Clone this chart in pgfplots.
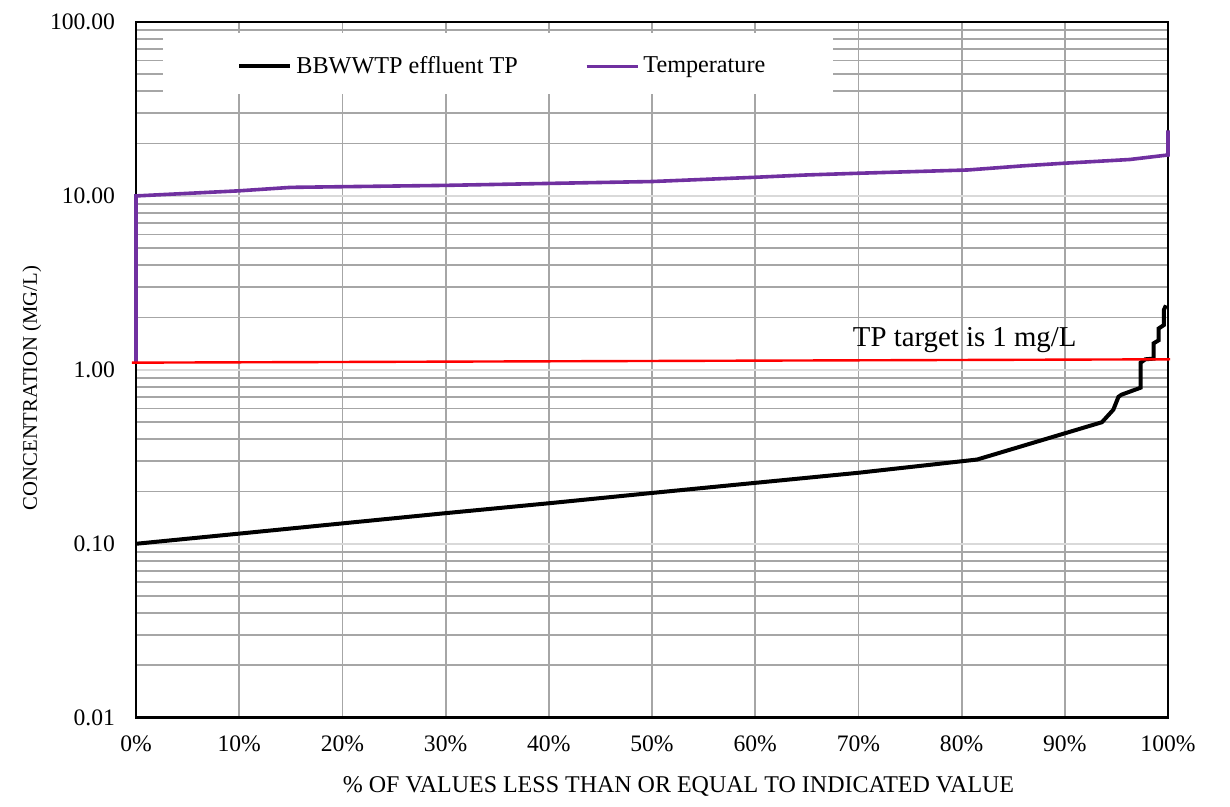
\documentclass[border=0pt]{standalone}
\usepackage{fontspec}
\setmainfont{Liberation Serif}
\usepackage{pgfplots}
\pgfplotsset{compat=1.18}
\definecolor{tempc}{HTML}{7030A0}
\definecolor{gridmaj}{HTML}{D9D9D9}
\definecolor{gridmin}{HTML}{A6A6A6}
\begin{document}
\begin{tikzpicture}
\useasboundingbox (-68pt,-44.65pt) rectangle (547pt,358.85pt);
\begin{axis}[
  anchor=south west, at={(0pt,0pt)},
  scale only axis, width=516pt, height=347.85pt,
  ymode=log, xmin=0, xmax=100, ymin=0.01, ymax=100,
  clip=false,
  xtick={0,10,20,30,40,50,60,70,80,90,100},
  xticklabels={0\%,10\%,20\%,30\%,40\%,50\%,60\%,70\%,80\%,90\%,100\%},
  ytick={0.01,0.1,1,10,100},
  yticklabels={0.01,0.10,1.00,10.00,100.00},
  /pgf/number format/assume math mode=true,
  major tick length=0pt, minor tick length=0pt,
  xmajorgrids=true, ymajorgrids=true, yminorgrids=true,
  major x grid style={color=gridmin, line width=0.9pt},
  major y grid style={color=gridmaj, line width=0.9pt},
  minor y grid style={color=gridmin, line width=0.9pt},
  axis line style={black, line width=1.4pt},
  ticklabel style={font=\fontsize{11.8}{13}\selectfont},
  yticklabel style={xshift=-7pt},
  xticklabel style={yshift=-5.5pt},
  xlabel={\% OF VALUES LESS THAN OR EQUAL TO INDICATED VALUE},
  xlabel style={font=\fontsize{12}{14}\selectfont, at={(axis description cs:0.5257,-0.0992)}, anchor=center},
  ylabel={CONCENTRATION (MG/L)},
  ylabel style={font=\fontsize{10.35}{12}\selectfont, at={(axis description cs:-0.1008,0.474)}, anchor=center, rotate=0},
  legend columns=2,
  legend cell align=left,
  legend image code/.code={\draw[#1] (0pt,0pt) -- (25.5pt,0pt);},
  legend style={at={(axis cs:9.79,55.5)}, anchor=west, draw=none, fill=none,
    inner xsep=0pt, inner ysep=0pt,
    font=\fontsize{12.1}{14}\selectfont,
    /tikz/every even column/.append style={column sep=31.5pt}},
]
\fill[white] (axis cs:2.6,38.5) rectangle (axis cs:67.5,86.4);
\addplot[black, line width=2pt] coordinates {
(0,0.100) (10,0.1144) (20,0.131) (30,0.150) (40,0.171) (50,0.196) (60,0.224) (70,0.256)
(81.5,0.305) (93.6,0.50) (94.7,0.59) (95.2,0.70) (95.5,0.72) (97.35,0.79) (97.35,1.10)
(97.8,1.15) (98.6,1.16) (98.6,1.42) (99.1,1.48) (99.1,1.73) (99.6,1.81) (99.6,2.21) (99.8,2.35)
};
\addlegendentry{BBWWTP effluent TP}
\addplot[tempc, line width=1.8pt] coordinates {
(0,1.10) (0,10.0) (10,10.7) (15,11.2) (20,11.3) (30,11.5) (40,11.8) (50,12.1) (60,12.8)
(65,13.2) (70,13.5) (80.6,14.1) (86,14.9) (89.8,15.4) (96.3,16.2) (100,17.2) (100,23.8)
};
\addlegendentry{Temperature}
\addplot[red, line width=1.2pt, forget plot] coordinates {(-0.4,1.10) (100.2,1.15)};
\node[font=\fontsize{14.4}{16}\selectfont, anchor=center] at (axis cs:80.3,1.48) {TP target is 1 mg/L};
\end{axis}
\end{tikzpicture}
\end{document}
